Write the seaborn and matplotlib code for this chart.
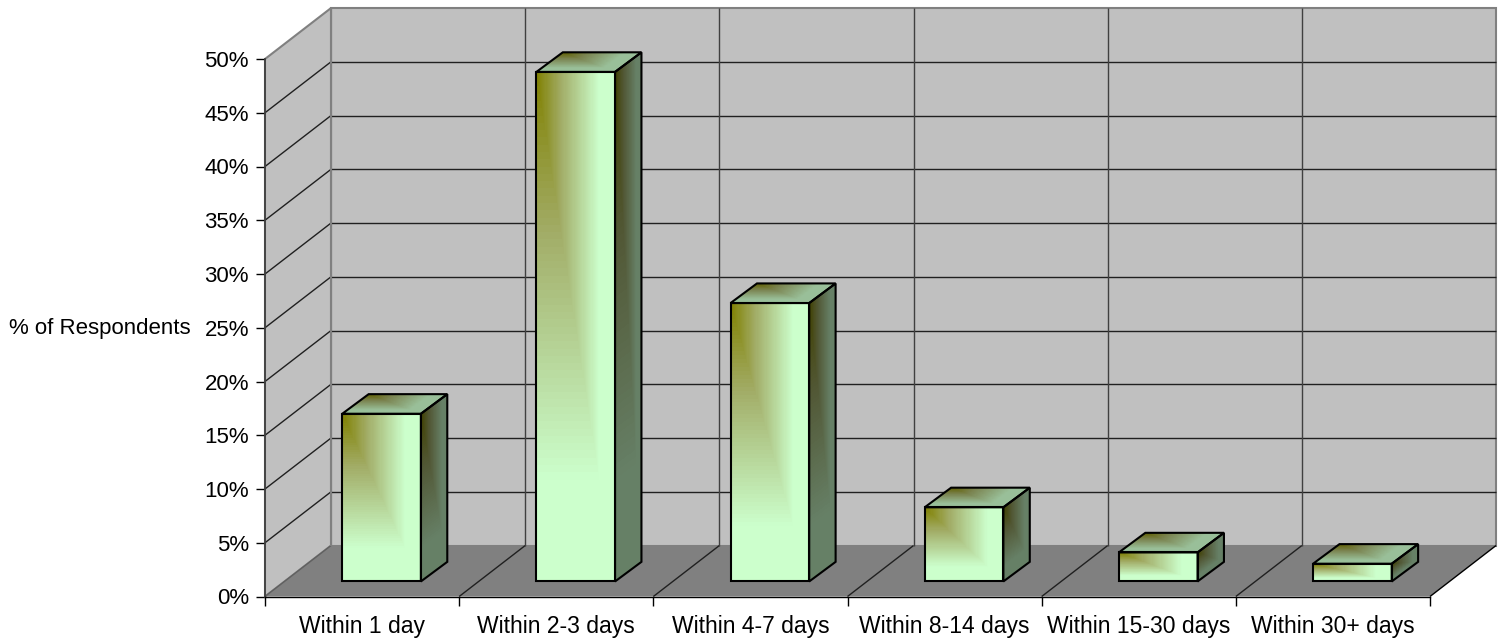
import numpy as np
import pandas as pd
import matplotlib
matplotlib.use("Agg")
import matplotlib.pyplot as plt
from matplotlib.patches import Polygon
import seaborn as sns

categories = ["Within 1 day", "Within 2-3 days", "Within 4-7 days",
              "Within 8-14 days", "Within 15-30 days", "Within 30+ days"]
respondents_pct = [15.6, 47.4, 25.9, 6.9, 2.7, 1.65]
y_ticks = list(range(0, 51, 5))
y_tick_labels = [f"{v}%" for v in y_ticks]

# Oblique projection: depth 1 is the back wall of the chart box
DEPTH_X = 0.34    # category units
DEPTH_Y = 4.74    # percentage points
BAR_FRONT = 0.295
BAR_DEPTH_X = 0.40
BAR_DEPTH_Y = 0.385
BAR_WIDTH = 0.405

# Colour stops of the bar fill, from its dark corner outward
RAMP_POS = [0.0, 0.4, 1.0]
RAMP_RGB = np.array([[0x80, 0x80, 0x00], [0xA2, 0xAD, 0x68], [0xCC, 0xFF, 0xCC]]) / 255


def proj(x, y, d=0.0):
    return x + d * DEPTH_X, y + d * DEPTH_Y


sns.set_theme(style="white")
plt.rcParams["font.family"] = ["Liberation Sans", "DejaVu Sans"]

fig = plt.figure(figsize=(15.02, 6.39), dpi=100)
ax = fig.add_axes([265 / 1502, 1 - 596.5 / 639, 1165 / 1502, 537.5 / 639])

slots = np.arange(len(categories))
df = pd.DataFrame({"slot": slots, "pct": respondents_pct})
sns.barplot(data=df, x="slot", y="pct", width=BAR_WIDTH, color="#CCFFCC",
            edgecolor="black", linewidth=1.5, native_scale=True, ax=ax)
ax.set_xlim(-0.5, 5.5)
ax.set_ylim(0, 50)

# Walls and floor of the chart box
corners_back = [proj(-0.5, 0, 1), proj(5.5, 0, 1), proj(5.5, 50, 1), proj(-0.5, 50, 1)]
ax.add_patch(Polygon(corners_back, fc="#C0C0C0", ec="#808080", lw=1.5, zorder=0.1, clip_on=False))
ax.add_patch(Polygon([proj(-0.5, 0), proj(-0.5, 0, 1), proj(-0.5, 50, 1), proj(-0.5, 50)],
                     fc="#C0C0C0", ec="#808080", lw=1.5, zorder=0.1, clip_on=False))
ax.add_patch(Polygon([proj(-0.5, 0), proj(5.5, 0), proj(5.5, 0, 1), proj(-0.5, 0, 1)],
                     fc="#808080", ec="none", zorder=0.2, clip_on=False))


def grid_line(p0, p1, color="#202020", lw=1.0, z=0.5):
    ax.plot([p0[0], p1[0]], [p0[1], p1[1]], color=color, lw=lw, zorder=z,
            clip_on=False, solid_capstyle="butt")


for v in y_ticks[1:-1]:
    grid_line(proj(-0.5, v), proj(-0.5, v, 1))
    grid_line(proj(-0.5, v, 1), proj(5.5, v, 1))
for k in range(1, 6):
    grid_line(proj(k - 0.5, 0), proj(k - 0.5, 0, 1))
    grid_line(proj(k - 0.5, 0, 1), proj(k - 0.5, 50, 1), color="#404040")
grid_line(proj(5.5, 0), proj(5.5, 0, 1), color="black")
grid_line(proj(-0.5, 0), proj(-0.5, 0, 1), color="#606060")
grid_line(proj(-0.5, 0, 1), proj(-0.5, 50, 1), color="#808080", lw=1.5, z=0.6)


def gradient_mesh(origin, edge_u, edge_v, shade, n=70):
    """Corner gradient on a parallelogram, darkest at `origin`."""
    s = np.linspace(0, 1, n + 1)
    uu, vv = np.meshgrid(s, s)
    mx = origin[0] + uu * edge_u[0] + vv * edge_v[0]
    my = origin[1] + uu * edge_u[1] + vv * edge_v[1]
    c = (s[:-1] + s[1:]) / 2
    cu, cv = np.meshgrid(c, c)
    t = np.clip(np.maximum(cu, cv) / 0.8, 0, 1)
    rgb = np.stack([np.interp(t, RAMP_POS, RAMP_RGB[:, i]) for i in range(3)], axis=-1) * shade
    ax.pcolormesh(mx, my, rgb, shading="flat", zorder=3, clip_on=False,
                  antialiased=False, linewidth=0)


for bar, val in zip(ax.patches, respondents_pct):
    x0, base = proj(bar.get_x(), 0, BAR_FRONT)
    w = bar.get_width()
    bar.set_x(x0)
    bar.set_y(base)
    bar.set_facecolor("none")
    bar.set_zorder(4)
    bar.set_clip_on(False)

    ddx, ddy = BAR_DEPTH_X * DEPTH_X, BAR_DEPTH_Y * DEPTH_Y
    top = base + val
    # Front face runs from its top-left corner downward and to the right
    gradient_mesh((x0, top), (w, 0), (0, -val), 1.0)
    # Side face
    gradient_mesh((x0 + w, top), (ddx, ddy), (0, -val), 0.5)
    # Top face, dark corner at the back left
    gradient_mesh((x0 + ddx, top + ddy), (w, 0), (-ddx, -ddy), 0.75)
    for pts in ([(x0 + w, base), (x0 + w + ddx, base + ddy), (x0 + w + ddx, top + ddy), (x0 + w, top)],
                [(x0, top), (x0 + ddx, top + ddy), (x0 + w + ddx, top + ddy), (x0 + w, top)]):
        ax.add_patch(Polygon(pts, fc="none", ec="black", lw=1.5, zorder=4,
                             clip_on=False, joinstyle="miter"))

# Axes, ticks and labels
sns.despine(ax=ax, top=True, right=True)
ax.spines["left"].set_color("#404040")
ax.spines["left"].set_linewidth(1.3)
ax.spines["bottom"].set_color("black")
ax.spines["bottom"].set_linewidth(1.0)
ax.spines["left"].set_zorder(5)
ax.spines["bottom"].set_zorder(5)
ax.set_yticks(y_ticks, y_tick_labels)
ax.set_xticks(slots, categories)
ax.set_xticks(np.arange(-0.5, 6), minor=True)
ax.tick_params(axis="x", which="major", length=0, pad=13, labelsize=16.5, labelcolor="black")
ax.tick_params(axis="x", which="minor", length=6.5, width=1, color="black", bottom=True)
ax.tick_params(axis="y", which="major", length=6.5, width=1, color="black", left=True,
               pad=5, labelsize=16, labelcolor="black")
ax.set_xlabel("")
ax.set_ylabel("% of Respondents", rotation=0, fontsize=16, color="black", labelpad=0)
ax.yaxis.set_label_coords(-74 / 1165, 0.499, transform=ax.transAxes)
ax.yaxis.label.set_ha("right")
ax.yaxis.label.set_va("center")

fig.savefig("out.png", dpi=100, facecolor="white")
